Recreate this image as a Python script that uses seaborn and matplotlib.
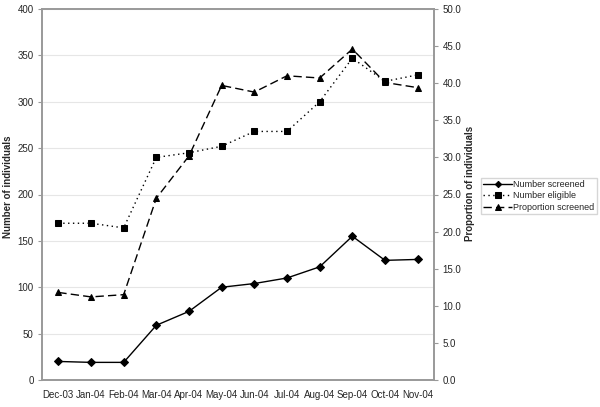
import matplotlib
matplotlib.use("Agg")
import matplotlib.pyplot as plt
import seaborn as sns
import pandas as pd

# data
months = ["Dec-03", "Jan-04", "Feb-04", "Mar-04", "Apr-04", "May-04",
          "Jun-04", "Jul-04", "Aug-04", "Sep-04", "Oct-04", "Nov-04"]
screened = [20, 19, 19, 59, 74, 100, 104, 110, 122, 155, 129, 130]
eligible = [169, 169, 164, 240, 245, 252, 268, 268, 300, 347, 322, 329]
proportion = [11.8, 11.2, 11.5, 24.5, 30.2, 39.7, 38.8, 41.0, 40.7, 44.6, 40.1, 39.4]

df = pd.DataFrame({"month": months, "x": range(len(months)),
                   "screened": screened, "eligible": eligible,
                   "proportion": proportion})

sns.set_style("white")
plt.rcParams['font.family'] = ['Liberation Sans', 'DejaVu Sans']
plt.rcParams['font.size'] = 7

fig = plt.figure(figsize=(6, 4.07), dpi=100)
ax = fig.add_axes([42 / 600, 27 / 407, 392 / 600, 371 / 407])
ax2 = ax.twinx()

sns.lineplot(data=df, x="x", y="screened", ax=ax, color="black", lw=1,
             marker="D", markersize=4, markeredgecolor="black",
             label="Number screened", legend=False)
sns.lineplot(data=df, x="x", y="eligible", ax=ax, color="black", lw=1,
             marker="s", markersize=5, markeredgecolor="black",
             linestyle=(0, (1, 2.5)), label="Number eligible", legend=False)
sns.lineplot(data=df, x="x", y="proportion", ax=ax2, color="black", lw=1,
             marker="^", markersize=5, markeredgecolor="black",
             linestyle=(0, (6, 3)), label="Proportion screened", legend=False)

ax.set_xlim(-0.5, len(months) - 0.5)
ax.set_ylim(0, 400)
ax2.set_ylim(0, 50)
ax.set_yticks(range(0, 401, 50))
ax2.set_yticks([i * 5 for i in range(11)])
ax2.set_yticklabels([f"{i * 5:.1f}" for i in range(11)])
ax.set_xticks(range(len(months)))
ax.set_xticklabels(months)
ax.set_xticks([i - 0.5 for i in range(len(months) + 1)], minor=True)
ax.tick_params(axis="x", which="major", length=0, pad=7)
ax.tick_params(axis="x", which="minor", length=3, color="#999999", direction="out")
ax.tick_params(axis="y", length=3, color="#999999", direction="out", pad=3, left=True)
ax2.tick_params(axis="y", length=3, color="#999999", direction="out", pad=3, right=True)

ax.yaxis.grid(True, color="#e6e6e6", lw=0.8)
ax.set_axisbelow(True)
for a in (ax, ax2):
    for sp in a.spines.values():
        sp.set_color("#999999")
        sp.set_linewidth(1.2)

ax.set_xlabel("")
ax.set_ylabel("Number of individuals", fontweight="bold", fontsize=7)
ax2.set_ylabel("Proportion of individuals", fontweight="bold", fontsize=7)
ax.yaxis.set_label_coords(-29 / 392, 0.52)
ax2.yaxis.set_label_coords(1 + 31 / 392, 0.53)

h1, l1 = ax.get_legend_handles_labels()
h2, l2 = ax2.get_legend_handles_labels()
fig.legend(h1 + h2, l1 + l2, loc="center", bbox_to_anchor=(539 / 600, 1 - 196 / 407),
           frameon=True, fancybox=False, edgecolor="#cccccc", fontsize=6.5,
           handlelength=3.2, handletextpad=0.1, borderpad=0.3, labelspacing=0.25,
           borderaxespad=0, markerscale=0.8)

fig.savefig("out.png", dpi=100)
